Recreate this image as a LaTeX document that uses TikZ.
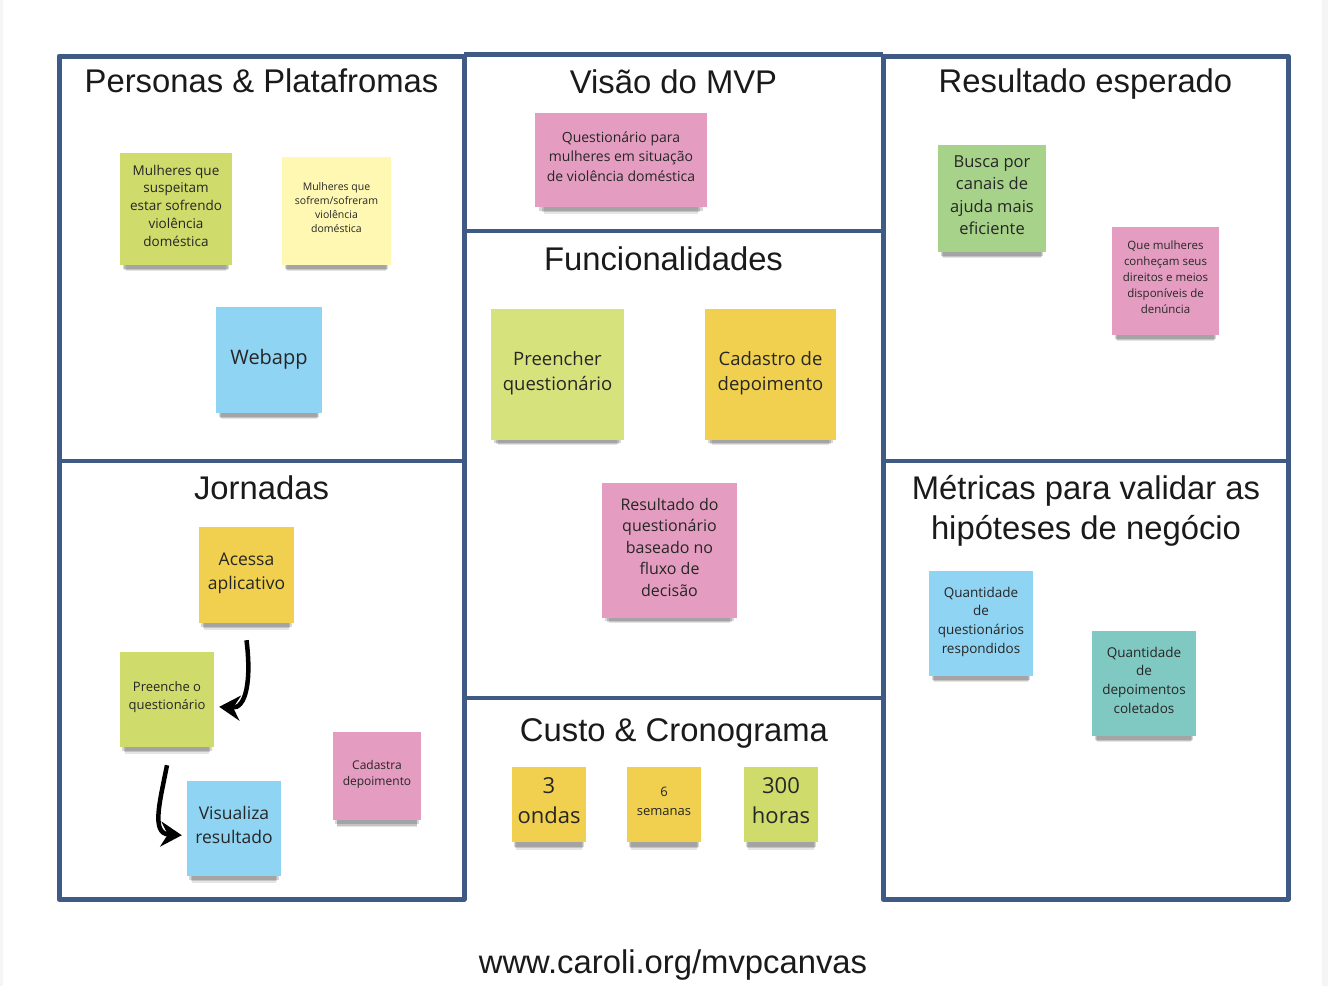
\documentclass[tikz,border=0pt]{standalone}
\usepackage{fontspec}
\setmainfont{Open Sans}
\newfontfamily\titlefont{Liberation Sans}
\usetikzlibrary{arrows.meta,shadows}

\definecolor{frameblue}{HTML}{3E5A85}
\definecolor{titletext}{HTML}{1A1A1A}
\definecolor{notetext}{HTML}{262626}
\definecolor{notegreen}{HTML}{CFDB6A}
\definecolor{notelime}{HTML}{D6E27C}
\definecolor{notemint}{HTML}{A7D28A}
\definecolor{notecream}{HTML}{FFF8B3}
\definecolor{noteblue}{HTML}{90D4F3}
\definecolor{notepink}{HTML}{E49DC0}
\definecolor{noteyellow}{HTML}{F0D04E}
\definecolor{noteteal}{HTML}{80C9C2}

\tikzset{
    sticky/.style={align=center, inner sep=0pt, text=notetext,
        execute at end node={\rule[-7pt]{0pt}{7pt}},
        general shadow={fill=black, opacity=0.16, shadow yshift=-7pt, shadow scale=0.95},
        general shadow={fill=black, opacity=0.14, shadow yshift=-10pt, shadow scale=0.92},
        general shadow={fill=black, opacity=0.10, shadow yshift=-13pt, shadow scale=0.90}},
    notesize/.style 2 args={minimum width=#1pt, minimum height=#2pt},
    fs/.style 2 args={font=\fontsize{#1}{#2}\selectfont},
    heading/.style={font=\titlefont\fontsize{32.8}{40}\selectfont, text=titletext, inner sep=0pt},
    frame/.style={draw=frameblue, line width=5pt, line join=round},
    divider/.style={draw=frameblue, line width=4pt},
    flow/.style={line width=4.5pt, -{Stealth[length=21pt,width=25pt,inset=7pt]}, shorten >=5pt}
}

\begin{document}
\begin{tikzpicture}[x=1pt,y=-1pt]

        \useasboundingbox (0,0) rectangle (1328,986);
        \fill[white] (0,0) rectangle (1328,986);
        \fill[black!4] (1322,0) rectangle (1328,986);
        \fill[black!4] (0,0) rectangle (3,986);

        % canvas frame
        \draw[frame] (59,56) rectangle (464,899);
        \draw[frame] (883,56) rectangle (1288,899);
        \draw[frame] (464,54) -- (883,54);
        \draw[divider] (59,461) -- (464,461);
        \draw[divider] (464,231) -- (883,231);
        \draw[divider] (464,698) -- (883,698);
        \draw[divider] (883,461) -- (1288,461);

        % headings
        \begin{scope}[every node/.style={heading, anchor=base}]
            \node (personas) at (261.5,92.5) {Personas \& Platafromas};
            \node (visao) at (673.5,93.5) {Visão do MVP};
            \node (resultado) at (1085.5,92.5) {Resultado esperado};
            \node (funcoes) at (663.5,270.5) {Funcionalidades};
            \node (jornadas) at (261.5,499.5) {Jornadas};
            \node (custo) at (674,741.5) {Custo \& Cronograma};
            \node (site) at (673,973) {www.caroli.org/mvpcanvas};
        \end{scope}
        \node[heading, align=center] (metricas) at (1086,511) {Métricas para validar as\\hipóteses de negócio};

        % sticky notes
        \begin{scope}[every node/.style={sticky}]
            \node[fill=notegreen, notesize={112}{112}, fs={13.5}{17.7}] (suspeitam) at (176,209) {Mulheres que\\suspeitam\\estar sofrendo\\violência\\doméstica};
            \node[fill=notecream, notesize={109}{108}, fs={10.5}{14.3}] (sofrem) at (336.5,211) {Mulheres que\\sofrem/sofreram\\violência\\doméstica};
            \node[fill=noteblue, notesize={106}{106}, fs={20}{26}] (webapp) at (269,360) {Webapp};

            \node[fill=notepink, notesize={172}{94}, fs={14}{19.5}] (mvp) at (621,160) {Questionário para\\mulheres em situação\\de violência doméstica};

            \node[fill=notemint, notesize={108}{107}, fs={16.5}{22.3}] (busca) at (992,198.5) {Busca por\\canais de\\ajuda mais\\eficiente};
            \node[fill=notepink, notesize={107}{108}, fs={11.5}{16}] (direitos) at (1165.5,281) {Que mulheres\\conheçam seus\\direitos e meios\\disponíveis de\\denúncia};

            \node[fill=notelime, notesize={133}{131}, fs={18.5}{25}] (preencher) at (557.5,374.5) {Preencher\\questionário};
            \node[fill=noteyellow, notesize={131}{131}, fs={18.5}{25}] (cadastro) at (770.5,374.5) {Cadastro de\\depoimento};
            \node[fill=notepink, notesize={135}{135}, fs={16}{21.5}] (fluxo) at (669.5,550.5) {Resultado do\\questionário\\baseado no\\fluxo de\\decisão};

            \node[fill=noteyellow, notesize={95}{96}, fs={17.5}{24}] (acessa) at (246.5,575) {Acessa\\aplicativo};
            \node[fill=notegreen, notesize={94}{95}, fs={13}{18}] (preenche) at (167,699.5) {Preenche o\\questionário};
            \node[fill=noteblue, notesize={94}{95}, fs={17.5}{24}] (visualiza) at (234,828.5) {Visualiza\\resultado};
            \node[fill=notepink, notesize={88}{88}, fs={12}{16}] (cadastra) at (377,776) {Cadastra\\depoimento};

            \node[fill=noteyellow, notesize={74}{75}, fs={22}{30}] (ondas) at (549,804.5) {3\\ondas};
            \node[fill=noteyellow, notesize={74}{75}, fs={13}{19}] (semanas) at (664,804.5) {6\\semanas};
            \node[fill=notegreen, notesize={74}{75}, fs={22}{30}] (horas) at (781,804.5) {300\\horas};

            \node[fill=noteblue, notesize={104}{105}, fs={13.5}{18.7}] (respondidos) at (981,623.5) {Quantidade\\de\\questionários\\respondidos};
            \node[fill=noteteal, notesize={104}{105}, fs={13.5}{18.7}] (coletados) at (1144,683.5) {Quantidade\\de\\depoimentos\\coletados};
        \end{scope}

        % journey arrows
        \draw[flow] ([yshift=-17pt]acessa.south) .. controls +(5,40) and +(32,2) .. ([yshift=-7pt]preenche.east);
        \draw[flow] ([yshift=-18pt]preenche.south) .. controls +(-7,36) and +(-36,-2) .. ([yshift=-7pt]visualiza.west);

\end{tikzpicture}
\end{document}
